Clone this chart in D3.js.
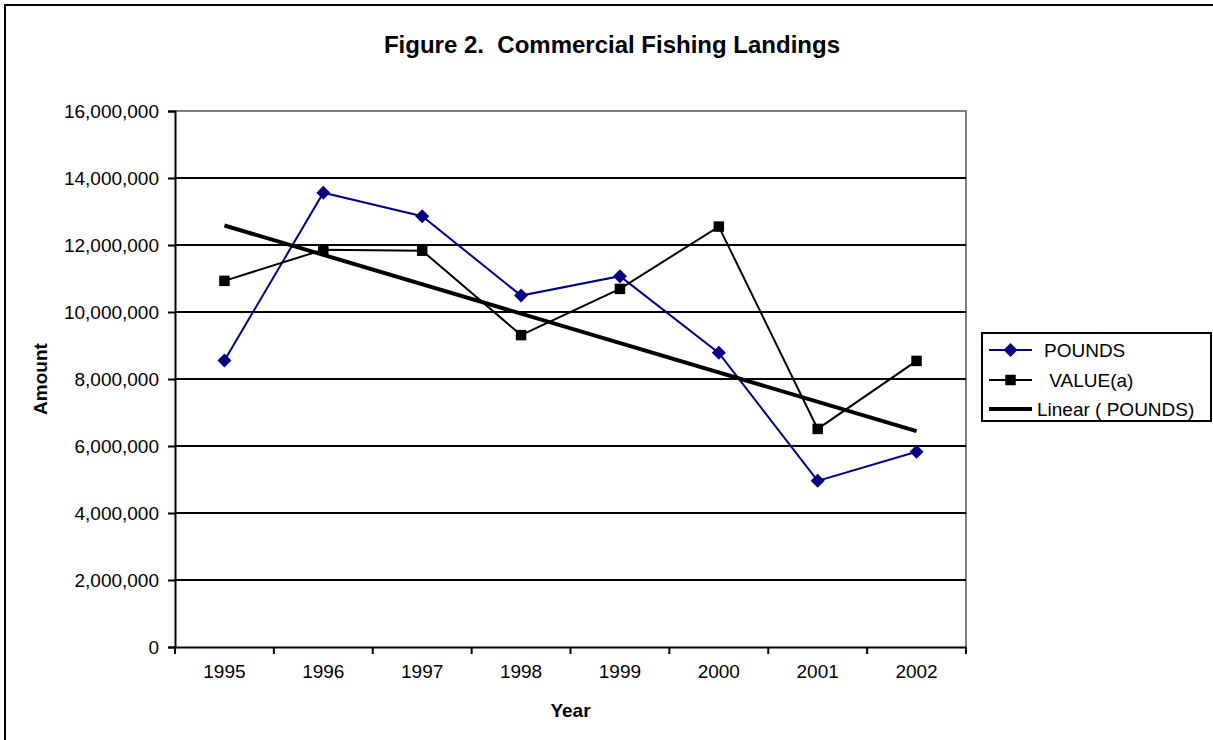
<!DOCTYPE html>
<html>
<head>
<meta charset="utf-8">
<script src="https://cdn.jsdelivr.net/npm/d3@7"></script>
<style>
  body { margin: 0; background: #fff; }
  svg { display: block; font-family: "Liberation Sans", Arial, sans-serif; }
</style>
</head>
<body>
<div id="chart"></div>
<script>
const years = ["1995", "1996", "1997", "1998", "1999", "2000", "2001", "2002"]
const pounds = [8550000, 13560000, 12860000, 10490000, 11070000, 8780000, 4960000, 5830000]
const value = [10930000, 11860000, 11830000, 9310000, 10690000, 12550000, 6510000, 8540000]
const yTicks = [0, 2000000, 4000000, 6000000, 8000000, 10000000, 12000000, 14000000, 16000000]
const legendItems = ["POUNDS", " VALUE(a)", "Linear ( POUNDS)"]

const width = 1213, height = 740
const plot = { left: 175, right: 966, top: 111, bottom: 647 }

const svg = d3.select("#chart").append("svg")
  .attr("width", width)
  .attr("height", height)

// outer chart border (right/bottom run off the picture)
svg.append("rect")
  .attr("x", 5).attr("y", 5)
  .attr("width", width + 10).attr("height", height + 10)
  .attr("fill", "#fff")
  .attr("stroke", "#000")
  .attr("stroke-width", 2)

const x = d3.scaleBand().domain(years).range([plot.left, plot.right])
const y = d3.scaleLinear().domain([0, 16000000]).range([plot.bottom, plot.top])
const cx = d => x(d) + x.bandwidth() / 2

// plot frame: top and right in grey
svg.append("path")
  .attr("d", `M${plot.left},${plot.top}H${plot.right}V${plot.bottom}`)
  .attr("fill", "none")
  .attr("stroke", "#808080")
  .attr("stroke-width", 2)

// gridlines
svg.append("g")
  .selectAll("line")
  .data(yTicks.filter(t => t > 0 && t < 16000000))
  .join("line")
  .attr("x1", plot.left).attr("x2", plot.right)
  .attr("y1", d => y(d)).attr("y2", d => y(d))
  .attr("stroke", "#000")
  .attr("stroke-width", 2)

// y axis
const yAxis = svg.append("g")
  .attr("transform", `translate(${plot.left},0)`)
  .call(d3.axisLeft(y).tickValues(yTicks).tickSize(7).tickPadding(9).tickFormat(d3.format(",")))
yAxis.select(".domain").attr("stroke-width", 2)
yAxis.selectAll(".tick line").attr("stroke-width", 2)
yAxis.selectAll("text").attr("font-size", 19).attr("font-family", "Liberation Sans, Arial").attr("fill", "#000")

// x axis: ticks between categories
const xAxis = svg.append("g")
  .attr("transform", `translate(0,${plot.bottom})`)
  .call(d3.axisBottom(x).tickSize(0).tickPadding(18))
xAxis.select(".domain").attr("stroke-width", 2)
xAxis.selectAll("text").attr("font-size", 19).attr("font-family", "Liberation Sans, Arial").attr("fill", "#000")
xAxis.selectAll(".sep")
  .data(years.concat([null]))
  .join("line")
  .attr("class", "sep")
  .attr("x1", (d, i) => i < years.length ? x(d) : plot.right)
  .attr("x2", (d, i) => i < years.length ? x(d) : plot.right)
  .attr("y1", 0).attr("y2", 7)
  .attr("stroke", "#000")
  .attr("stroke-width", 2)

// titles
svg.append("text")
  .attr("x", 612).attr("y", 53)
  .attr("text-anchor", "middle")
  .attr("font-size", 24).attr("font-weight", "bold")
  .attr("xml:space", "preserve")
  .text("Figure 2.  Commercial Fishing Landings")

svg.append("text")
  .attr("x", (plot.left + plot.right) / 2).attr("y", 717)
  .attr("text-anchor", "middle")
  .attr("font-size", 19).attr("font-weight", "bold")
  .text("Year")

svg.append("text")
  .attr("transform", `translate(47,${(plot.top + plot.bottom) / 2}) rotate(-90)`)
  .attr("text-anchor", "middle")
  .attr("font-size", 19).attr("font-weight", "bold")
  .text("Amount")

// linear trend of POUNDS (least squares over category index)
const idx = years.map((d, i) => i + 1)
const mx = d3.mean(idx), my = d3.mean(pounds)
const slope = d3.sum(idx, (v, i) => (v - mx) * (pounds[i] - my)) / d3.sum(idx, v => (v - mx) ** 2)
const trend = idx.map(v => my + slope * (v - mx))

const line = d3.line().x((d, i) => cx(years[i])).y(d => y(d))

svg.append("path")
  .datum(pounds)
  .attr("d", line)
  .attr("fill", "none")
  .attr("stroke", "#000080")
  .attr("stroke-width", 2)

svg.append("path")
  .datum(value)
  .attr("d", line)
  .attr("fill", "none")
  .attr("stroke", "#000")
  .attr("stroke-width", 2)

svg.append("path")
  .datum([trend[0], trend[trend.length - 1]])
  .attr("d", d3.line().x((d, i) => cx(years[i === 0 ? 0 : years.length - 1])).y(d => y(d)))
  .attr("fill", "none")
  .attr("stroke", "#000")
  .attr("stroke-width", 4)

const diamond = d3.symbol().type(d3.symbolDiamond2).size(125)
const square = d3.symbol().type(d3.symbolSquare).size(110)

svg.append("g")
  .selectAll("path")
  .data(pounds)
  .join("path")
  .attr("d", diamond)
  .attr("transform", (d, i) => `translate(${cx(years[i])},${y(d)})`)
  .attr("fill", "#000080")

svg.append("g")
  .selectAll("path")
  .data(value)
  .join("path")
  .attr("d", square)
  .attr("transform", (d, i) => `translate(${cx(years[i])},${y(d)})`)
  .attr("fill", "#000")

// legend
const lg = svg.append("g")
lg.append("rect")
  .attr("x", 982).attr("y", 333)
  .attr("width", 229).attr("height", 88)
  .attr("fill", "#fff")
  .attr("stroke", "#000")
  .attr("stroke-width", 2)

const rowY = [350, 380, 409]
const row = lg.selectAll("g.row")
  .data(legendItems)
  .join("g")
  .attr("class", "row")
  .attr("transform", (d, i) => `translate(0,${rowY[i]})`)

row.append("line")
  .attr("x1", 989).attr("x2", 1032)
  .attr("stroke", (d, i) => i === 0 ? "#000080" : "#000")
  .attr("stroke-width", (d, i) => i === 2 ? 4 : 2)

row.filter((d, i) => i === 0).append("path")
  .attr("d", diamond)
  .attr("transform", "translate(1010.5,0)")
  .attr("fill", "#000080")

row.filter((d, i) => i === 1).append("path")
  .attr("d", square)
  .attr("transform", "translate(1010.5,0)")
  .attr("fill", "#000")

row.append("text")
  .attr("x", (d, i) => i === 2 ? 1037 : 1044)
  .attr("y", 7)
  .attr("font-size", 19)
  .attr("xml:space", "preserve")
  .text(d => d)
</script>
</body>
</html>
